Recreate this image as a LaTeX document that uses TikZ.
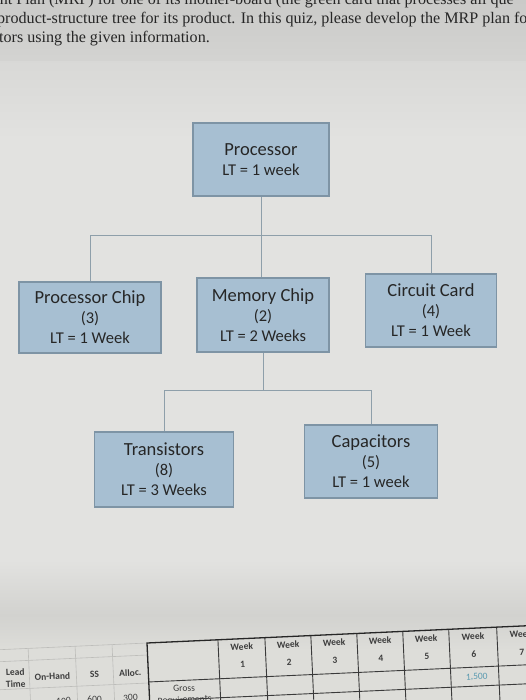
\documentclass[tikz,border=0pt]{standalone}
\usepackage{fontspec}
\setmainfont{Liberation Serif}
\newfontfamily\boxfont{Carlito}
\definecolor{boxfill}{HTML}{A7BFD2}
\definecolor{boxline}{HTML}{7E94A5}
\definecolor{conn}{HTML}{8E9FAA}
\definecolor{bgtop}{HTML}{CACAC8}
\definecolor{bgmid}{HTML}{E2E2E0}
\definecolor{bgband}{HTML}{D2D2CF}
\definecolor{bglow}{HTML}{DDDDD9}
\definecolor{faint}{HTML}{BDBDBA}
\definecolor{tabline}{HTML}{3A3A3A}
\definecolor{tabtext}{HTML}{3C3C3C}
\definecolor{bluenum}{HTML}{5A9AB0}
\definecolor{papertext}{HTML}{262626}
\begin{document}
\begin{tikzpicture}[x=1pt,y=-1pt,
  box/.style={draw=boxline, fill=boxfill, line width=1.1pt, align=center,
    inner sep=2pt, text=black!85,
    font=\boxfont\fontsize{16.5}{20}\selectfont},
  link/.style={draw=conn, line width=1pt},
  para/.style={anchor=base west, inner sep=0pt, text=papertext,
    font=\fontsize{16.1}{19}\selectfont},
  tabbold/.style={inner sep=0pt, text=tabtext, transform shape,
    font=\boxfont\bfseries\fontsize{9.5}{10}\selectfont},
  tabreg/.style={inner sep=0pt, text=tabtext, transform shape,
    font=\boxfont\fontsize{9.5}{10}\selectfont},
  grid faint/.style={draw=faint, line width=0.6pt},
  grid dark/.style={draw=tabline, line width=0.9pt},
  grid thick/.style={draw=black!85, line width=1.3pt}
]
\newcommand\ttl{\fontsize{18.5}{20}\selectfont}
\useasboundingbox (0,0) rectangle (526,700);
\clip (0,0) rectangle (526,700);

% background (photographed paper)
\fill[bgmid] (0,0) rectangle (526,700);
\shade[top color=bgtop, bottom color=bgtop!60!bgmid] (0,0) rectangle (526,62);
\shade[top color=bgtop!40!bgmid, bottom color=bgmid] (0,62) rectangle (526,140);
\shade[top color=bgmid, bottom color=bgband] (0,560) rectangle (526,615);
\shade[top color=bgband, bottom color=bglow] (0,615) rectangle (526,650);
\fill[bglow] (0,650) rectangle (526,700);

% text of the page
\node[para] (line1) at (-20,5) {ment Plan (MRP) for one of its mother-board (the green card that processes all que};
\node[para] (line2) at (-3,24) {product-structure tree for its product. In this quiz, please develop the MRP plan fo};
\node[para] (line3) at (-1,43) {tors using the given information.};

% product-structure tree
\node[box, minimum width=136pt, minimum height=73pt] (proc) at (261,159.5)
  {{\ttl Processor}\\LT = 1 week};
\node[box, minimum width=142pt, minimum height=71pt] (pchip) at (90,317.5)
  {{\ttl Processor Chip}\\(3)\\LT = 1 Week};
\node[box, minimum width=132pt, minimum height=74pt] (mchip) at (263,315)
  {{\ttl Memory Chip}\\(2)\\LT = 2 Weeks};
\node[box, minimum width=131pt, minimum height=73pt] (ccard) at (431,310.5)
  {{\ttl Circuit Card}\\(4)\\LT = 1 Week};
\node[box, minimum width=139pt, minimum height=75pt] (trans) at (164,469.5)
  {{\ttl Transistors}\\(8)\\LT = 3 Weeks};
\node[box, minimum width=133pt, minimum height=73pt] (cap) at (371,461.5)
  {{\ttl Capacitors}\\(5)\\LT = 1 week};

\coordinate (bus1) at (262,236);
\coordinate (bus2) at (263,390);
\draw[link] (proc.south) -- (proc.south |- mchip.north);
\draw[link] (pchip.north) -- (pchip.north |- bus1) -- (ccard.north |- bus1) -- (ccard.north);
\draw[link] (mchip.south) -- (mchip.south |- bus2);
\draw[link] (trans.north) -- (trans.north |- bus2) -- (cap.north |- bus2) -- (cap.north);

% MRP table (photographed at a slight angle)
\begin{scope}[rotate around={2.6:(147,643)}]
  % left, faint grid
  \foreach \y in {643,655,683} \draw[grid faint] (-20,\y) -- (147,\y);
  \foreach \x in {28,75,112} \draw[grid faint] (\x,643) -- (\x,720);
  % right, ruled table
  \foreach \x in {218,265,311,357,403,449,497,545} \draw[grid dark] (\x,643) -- (\x,720);
  \foreach \y in {682,701} \draw[grid dark] (147,\y) -- (580,\y);
  \draw[grid thick] (147,720) -- (147,643) -- (580,643);

  \node[tabbold] (lead) at (14,666) {Lead};
  \node[tabbold] (time) at (14,678) {Time};
  \node[tabbold] (onhand) at (51,672) {On-Hand};
  \node[tabbold] (ss) at (93,672) {SS};
  \node[tabbold] (alloc) at (129,672) {Alloc.};
  \node[tabreg] (v1) at (61,697) {100};
  \node[tabreg] (v2) at (92,697) {600};
  \node[tabreg] (v3) at (128,697) {300};
  \node[tabreg] (gross) at (182,690) {Gross};
  \node[tabreg] (req) at (182,702) {Requirements};

  \foreach \i/\xa/\xb in {1/218/265,2/265/311,3/311/357,4/357/403,5/403/449,6/449/497,7/497/545} {
    \node[tabbold] (wk\i) at ({(\xa+\xb)/2},651) {Week};
    \node[tabbold] (wn\i) at ({(\xa+\xb)/2},669) {\i};
  }
  \node[tabreg, text=bluenum] (gr6) at (475,692) {1,500};
\end{scope}
\end{tikzpicture}
\end{document}
